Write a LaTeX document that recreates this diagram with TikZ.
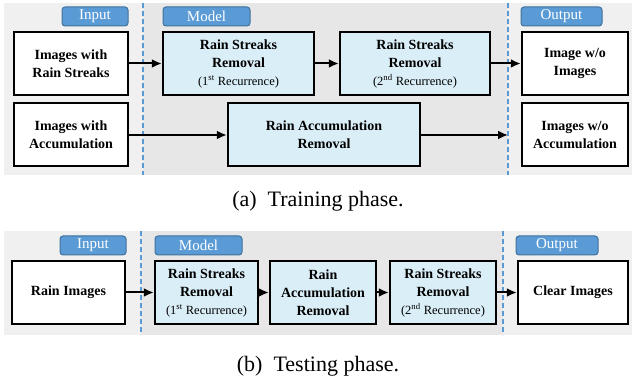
\documentclass[tikz,border=0pt]{standalone}
\usepackage{fontspec}
\setmainfont{Liberation Serif}
\usetikzlibrary{arrows.meta}
\definecolor{bgin}{HTML}{F0F0F0}
\definecolor{bgmid}{HTML}{E7E7E7}
\definecolor{boxblue}{HTML}{DAEEF7}
\definecolor{tagfill}{HTML}{5B9BD5}
\definecolor{tagdraw}{HTML}{41719C}
\definecolor{dashblue}{HTML}{5B9BD5}
\tikzset{
  whitebox/.style={draw=black, line width=2.4pt, fill=white, align=center, font=\bfseries\fontsize{14}{18}\selectfont, inner sep=0pt},
  bluebox/.style={whitebox, fill=boxblue},
  tag/.style={draw=tagdraw, line width=1pt, fill=tagfill, rounded corners=3pt, text=white, font=\fontsize{15}{17}\selectfont, inner sep=0pt},
  conn/.style={line width=2pt, -{Latex[length=10pt,width=9pt]}},
  divider/.style={dashblue, line width=1.4pt, dash pattern=on 5pt off 3pt},
  captxt/.style={font=\fontsize{22}{25}\selectfont}
}
\newcommand{\boxat}[6]{\node[#1, minimum width=#4-#2, minimum height=#5-#3] (#6) at ({(#2+#4)/2},{(#3+#5)/2})}
\newcommand{\rec}[1]{{\mdseries\fontsize{12.5}{16}\selectfont(#1 Recurrence)}}
\begin{document}
\begin{tikzpicture}[x=1pt,y=-1pt]
\useasboundingbox (0,0) rectangle (633,382);
% ---- panel (a) backgrounds
\fill[bgin] (4,3) rectangle (632,175);
\fill[bgmid] (143,3) rectangle (508,175);
\draw[divider] (143,3) -- (143,175);
\draw[divider] (508,3) -- (508,175);
% tags
\boxat{tag}{62}{7}{128}{26}{ta1}{Input};
\boxat{tag}{163}{7}{250}{26}{ta2}{Model};
\boxat{tag}{521}{7}{602}{26}{ta3}{Output};
% boxes row 1
\boxat{whitebox}{14}{32}{128}{95}{a1}{Images with\\Rain Streaks};
\boxat{bluebox}{163}{32}{314}{95}{a2}{Rain Streaks\\Removal\\\rec{1\textsuperscript{st}}};
\boxat{bluebox}{340}{32}{490}{95}{a3}{Rain Streaks\\Removal\\\rec{2\textsuperscript{nd}}};
\boxat{whitebox}{522}{32}{628}{95}{a4}{Image w/o\\Images};
% row 2
\boxat{whitebox}{14}{103}{128}{166}{b1}{Images with\\Accumulation};
\boxat{bluebox}{228}{103}{420}{166}{b2}{Rain Accumulation\\Removal};
\boxat{whitebox}{522}{103}{628}{166}{b3}{Images w/o\\Accumulation};
\coordinate (b2end) at (508,135);
\draw[conn] (a1) -- (a2);
\draw[conn] (a2) -- (a3);
\draw[conn] (a3) -- (a4);
\draw[conn] (b1.east |- 0,135) -- (b2.west |- 0,135);
\draw[conn] (b2.east |- 0,135) -- (b2end);
\node[captxt] (capa) at (318,201) {(a)\enspace Training phase.};
% ---- panel (b)
\fill[bgin] (4,231) rectangle (632,335);
\fill[bgmid] (141,231) rectangle (503,335);
\draw[divider] (141,231) -- (141,335);
\draw[divider] (503,231) -- (503,335);
\boxat{tag}{60}{236}{126}{255}{tb1}{Input};
\boxat{tag}{155}{236}{242}{255}{tb2}{Model};
\boxat{tag}{516}{236}{598}{255}{tb3}{Output};
\boxat{whitebox}{12}{261}{125}{324}{c1}{Rain Images};
\boxat{bluebox}{155}{261}{258}{324}{c2}{Rain Streaks\\Removal\\\rec{1\textsuperscript{st}}};
\boxat{bluebox}{270}{261}{376}{324}{c3}{Rain\\Accumulation\\Removal};
\boxat{bluebox}{390}{261}{496}{324}{c4}{Rain Streaks\\Removal\\\rec{2\textsuperscript{nd}}};
\boxat{whitebox}{518}{261}{628}{324}{c5}{Clear Images};
\draw[conn] (c1) -- (c2);
\draw[conn] (c2) -- (c3);
\draw[conn] (c3) -- (c4);
\draw[conn] (c4) -- (c5);
\node[captxt] (capb) at (318,366) {(b)\enspace Testing phase.};
\end{tikzpicture}
\end{document}
